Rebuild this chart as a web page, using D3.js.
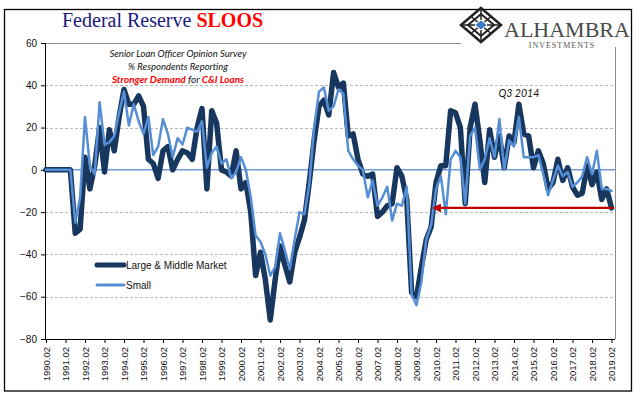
<!DOCTYPE html>
<html>
<head>
<meta charset="utf-8">
<script src="https://cdn.jsdelivr.net/npm/d3@7"></script>
<style>
body { margin: 0; background: #fff; }
svg { display: block; }
</style>
</head>
<body>
<div id="chart"></div>
<script>
// quarterly categories 1990.02 .. 2019.02
var startYear = 1990, startQ = 2, nQ = 117;
var quarters = d3.range(nQ).map(function (i) {
    var q = startQ - 1 + i;
    return (startYear + Math.floor(q / 4)) + ".0" + (q % 4 + 1);
});

// % respondents reporting stronger demand for C&I loans
var large = [
    0, 0, 0, 0, 0, 0,
    -30, -28, 6, -9, 2,
    20, -1, 19, 9, 25,
    38, 31, 31, 35, 30,
    5, 3, -4, 9, 11,
    0, 5, 9, 8, 5,
    20, 29, -9, 28, 22,
    0, -1, -3, 9, -9,
    -6, -20, -50, -39, -52,
    -71, -52, -36, -45, -53,
    -39, -32, -24, -6, 14,
    30, 33, 26, 46, 39,
    41, 16, 17, 5, -2,
    -3, -2, -22, -20, -17,
    -16, 1, -3, -14, -58,
    -60, -46, -33, -27, -6,
    2, 2, 28, 27, 20,
    -16, 20, 31, 14, -6,
    19, 6, 16, 1, 16,
    13, 31, 17, 16, 1,
    9, 3, -9, -6, 5,
    -5, 1, -8, -12, -11,
    2, -7, -1, -14, -9,
    -18
];
var small = [
    0, 0, 0, 0, 0, 0,
    -25, -13, 25, 2, -2,
    32, 12, 13, 16, 27,
    37, 21, 31, 23, 17,
    25, 7, 11, 24, 17,
    6, 15, 12, 20, 19,
    18, 23, 1, 8, 11,
    3, 5, -4, -1, 6,
    0, -13, -31, -34, -40,
    -50, -46, -30, -38, -47,
    -33, -20, -21, -7, 20,
    37, 39, 28, 30, 38,
    36, 9, 5, 2, 0,
    -13, -5, -17, -13, -8,
    -24, -16, -17, -8, -59,
    -64, -53, -33, -26, -9,
    -3, -21, 5, 9, 6,
    -16, 16, 20, 0, 5,
    15, 6, 24, 0, 14,
    11, 25, 6, 6, 6,
    7, -2, -12, -5, 2,
    -3, -1, -8, -6, -3,
    6, -2, 9, -9, -9,
    -10
];

var yTicks = [60, 40, 20, 0, -20, -40, -60, -80];
var gridTicks = [40, 20, -20, -40, -60];
var xTicks = quarters.filter(function (d, i) { return i % 4 == 0; });
var seriesNames = ["Large & Middle Market", "Small"];
var arrowFrom = "2019.02", arrowTo = "2010.02", arrowLevel = -18;
var peakLabel = "Q3 2014", peakAt = "2014.03";

var width = 640, height = 399;
var plot = { left: 45, right: 615, top: 43, bottom: 339 };

var svg = d3.select("#chart").append("svg")
    .attr("width", width)
    .attr("height", height);

var x = d3.scalePoint().domain(quarters).range([46, 611.5]);
var y = d3.scaleLinear().domain([-80, 60]).range([plot.bottom, plot.top]);

// outer frame
svg.append("rect")
    .attr("x", 4.5).attr("y", 9.5)
    .attr("width", 627).attr("height", 381.5)
    .attr("fill", "#fff").attr("stroke", "#000").attr("stroke-width", 1.3);

// gridlines
svg.selectAll(".grid")
    .data(gridTicks).enter().append("line")
    .attr("class", "grid")
    .attr("x1", plot.left).attr("x2", plot.right)
    .attr("y1", function (d) { return Math.round(y(d)) + 0.5; })
    .attr("y2", function (d) { return Math.round(y(d)) + 0.5; })
    .attr("stroke", "#b8b8b8")
    .attr("stroke-dasharray", "3,2");

// plot border top/right
svg.append("line")
    .attr("x1", plot.left).attr("x2", plot.right)
    .attr("y1", plot.top + 0.5).attr("y2", plot.top + 0.5)
    .attr("stroke", "#8a8a8a");
svg.append("line")
    .attr("x1", plot.right + 0.5).attr("x2", plot.right + 0.5)
    .attr("y1", plot.top).attr("y2", plot.bottom)
    .attr("stroke", "#8a8a8a");

// zero line
svg.append("line")
    .attr("x1", plot.left).attr("x2", plot.right)
    .attr("y1", y(0)).attr("y2", y(0))
    .attr("stroke", "#6f9bd6").attr("stroke-width", 1.5);

// y axis
var yAxis = svg.append("g")
    .attr("transform", "translate(" + plot.left + ",0)")
    .call(d3.axisLeft(y).tickValues(yTicks).tickSize(4).tickFormat(d3.format("d")));
yAxis.select(".domain").attr("stroke", "#000");
yAxis.selectAll(".tick line").attr("stroke", "#000");
yAxis.selectAll("text")
    .attr("x", -8)
    .style("font-family", "Liberation Sans, Arial, sans-serif")
    .style("font-size", "10px")
    .attr("fill", "#111");

// x axis
var xAxis = svg.append("g")
    .attr("transform", "translate(0," + plot.bottom + ")")
    .call(d3.axisBottom(x).tickValues(xTicks).tickSize(4));
xAxis.select(".domain").remove();
xAxis.append("line")
    .attr("x1", plot.left).attr("x2", plot.right)
    .attr("y1", 0.5).attr("y2", 0.5)
    .attr("stroke", "#000");
xAxis.selectAll(".tick line").attr("stroke", "#000");
xAxis.selectAll("text")
    .attr("transform", "rotate(-90)")
    .attr("x", -8).attr("y", 0).attr("dy", "0.35em")
    .style("text-anchor", "end")
    .style("font-family", "Liberation Sans, Arial, sans-serif")
    .style("font-size", "9.5px")
    .attr("fill", "#111");

// series
var line = d3.line()
    .x(function (d, i) { return x(quarters[i]); })
    .y(function (d) { return y(d); });

svg.append("path")
    .datum(large)
    .attr("d", line)
    .attr("fill", "none")
    .attr("stroke", "#17375e")
    .attr("stroke-width", 5.5)
    .attr("stroke-linejoin", "round")
    .attr("stroke-linecap", "round");

svg.append("path")
    .datum(small)
    .attr("d", line)
    .attr("fill", "none")
    .attr("stroke", "#558ed5")
    .attr("stroke-width", 2.5)
    .attr("stroke-linejoin", "round")
    .attr("stroke-linecap", "round");

// red arrow
var defs = svg.append("defs");
defs.append("marker")
    .attr("id", "arrowhead")
    .attr("viewBox", "0 0 10 10")
    .attr("refX", 1).attr("refY", 5)
    .attr("markerWidth", 4).attr("markerHeight", 4)
    .attr("orient", "auto-start-reverse")
    .append("path")
    .attr("d", "M0,0L10,5L0,10z")
    .attr("fill", "#c00000");

svg.append("line")
    .attr("x1", x(arrowFrom) + 2).attr("x2", x(arrowTo) + 4)
    .attr("y1", y(arrowLevel)).attr("y2", y(arrowLevel))
    .attr("stroke", "#c00000").attr("stroke-width", 2.2)
    .attr("marker-end", "url(#arrowhead)");

// peak label
svg.append("text")
    .attr("x", x(peakAt)).attr("y", 97)
    .attr("text-anchor", "middle")
    .style("font-family", "Lato, sans-serif")
    .style("font-style", "italic")
    .style("font-size", "10.5px")
    .attr("fill", "#111")
    .text(peakLabel);

// legend
var legend = svg.append("g").attr("transform", "translate(97,265)");
var legendColors = ["#17375e", "#558ed5"];
var legendWidths = [5, 3];
seriesNames.forEach(function (name, i) {
    var g = legend.append("g").attr("transform", "translate(0," + (i * 20) + ")");
    g.append("line")
        .attr("x1", 0).attr("x2", 27)
        .attr("stroke", legendColors[i])
        .attr("stroke-width", legendWidths[i])
        .attr("stroke-linecap", "round");
    g.append("text")
        .attr("x", 29).attr("y", 4)
        .style("font-family", "Liberation Sans, Arial, sans-serif")
        .style("font-size", "10px")
        .attr("fill", "#111")
        .text(name);
});

// title
var title = svg.append("text")
    .attr("x", 62).attr("y", 27)
    .style("font-family", "Liberation Serif, Times New Roman, serif")
    .style("font-size", "20px");
title.append("tspan").attr("fill", "#1a1a80").text("Federal Reserve ");
title.append("tspan").attr("fill", "#ff0000").attr("font-weight", "bold").text("SLOOS");

// subtitle block
var note = svg.append("g")
    .style("font-family", "Lato, sans-serif")
    .style("font-style", "italic")
    .style("font-size", "9.5px")
    .attr("text-anchor", "middle");
note.append("text").attr("x", 178).attr("y", 57).attr("fill", "#111")
    .text("Senior Loan Officer Opinion Survey");
note.append("text").attr("x", 178).attr("y", 70).attr("fill", "#111")
    .text("% Respondents Reporting");
var n3 = note.append("text").attr("x", 178).attr("y", 83).style("font-size", "10px");
n3.append("tspan").attr("fill", "#ff0000").attr("font-weight", "bold").text("Stronger Demand ");
n3.append("tspan").attr("fill", "#111").text("for ");
n3.append("tspan").attr("fill", "#ff0000").attr("font-weight", "bold").text("C&I Loans");

// logo
var logo = svg.append("g").attr("transform", "translate(481,25)");
logo.append("rect")
    .attr("x", -20).attr("y", -14).attr("width", 155).attr("height", 36)
    .attr("fill", "#fff");
logo.append("path")
    .attr("d", "M0,-17L20,0L0,17L-20,0Z")
    .attr("fill", "#fff").attr("stroke", "#222").attr("stroke-width", 2.5);
logo.append("path")
    .attr("d", "M0,-11L13,0L0,11L-13,0Z")
    .attr("fill", "none").attr("stroke", "#222").attr("stroke-width", 2);
logo.append("path")
    .attr("d", "M-10,-8.5L10,8.5M10,-8.5L-10,8.5M0,-17V17M-20,0H20")
    .attr("stroke", "#222").attr("stroke-width", 1.5);
logo.append("path")
    .attr("d", "M0,-5L6,0L0,5L-6,0Z")
    .attr("fill", "#3b78c4").attr("stroke", "#fff").attr("stroke-width", 1);
logo.append("text")
    .attr("x", 23).attr("y", 12)
    .style("font-family", "Liberation Serif, Times New Roman, serif")
    .style("font-size", "22px")
    .attr("fill", "#4a4a4a")
    .text("ALHAMBRA");
logo.append("text")
    .attr("x", 81).attr("y", 23)
    .attr("text-anchor", "middle")
    .style("font-family", "Liberation Serif, Times New Roman, serif")
    .style("font-size", "8px")
    .style("letter-spacing", "1px")
    .attr("fill", "#555")
    .text("INVESTMENTS");
</script>
</body>
</html>
